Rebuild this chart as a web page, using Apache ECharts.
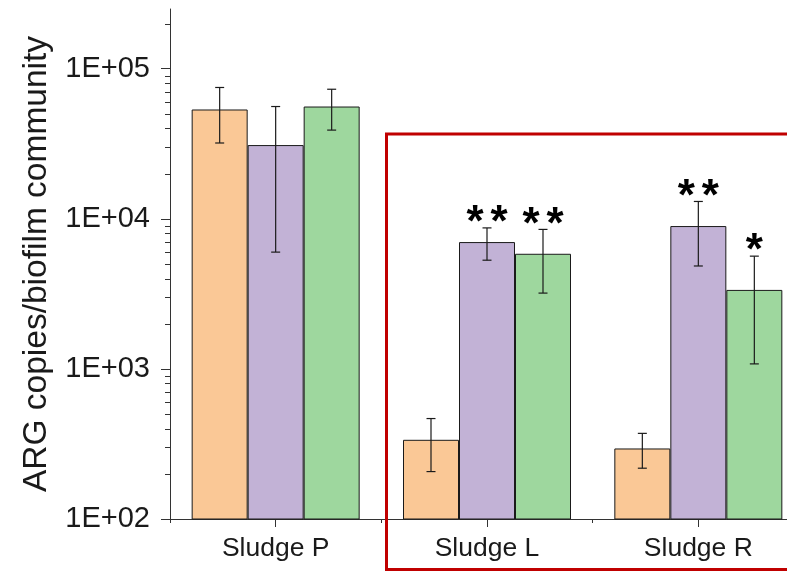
<!DOCTYPE html>
<html>
<head>
<meta charset="utf-8">
<script src="https://cdn.jsdelivr.net/npm/echarts@6/dist/echarts.min.js"></script>
<style>html,body{margin:0;padding:0;background:#fff;overflow:hidden;width:787px;height:572px}#c{width:810px;height:572px}</style>
</head>
<body>
<div id="c"></div>
<script>
const categories = ['Sludge P', 'Sludge L', 'Sludge R'];
const seriesA = [53500, 337, 295];     // orange
const seriesB = [31000, 7000, 8950];   // purple
const seriesC = [56000, 5850, 3360];   // green
const sdA = [21500, 130, 77];
const sdB = [25000, 1700, 4100];
const sdC = [17000, 2650, 2280];
const marksA = ['', '', ''];
const marksB = ['', '**', '**'];
const marksC = ['', '**', '*'];
const majorTicks = [100, 1000, 10000, 100000];
const minorTicks = [200,300,400,500,600,700,800,900,2000,3000,4000,5000,6000,7000,8000,9000,20000,30000,40000,50000,60000,70000,80000,90000,200000];

const colors = ['#FAC896', '#C2B2D6', '#9ED79E'];
const BAR_W = 56;
const STAR_STEP = 24;
const FONT = 'Liberation Sans, Arial, sans-serif';

const chart = echarts.init(document.getElementById('c'));

const values = [seriesA, seriesB, seriesC];
const sds = [sdA, sdB, sdC];
const marks = [marksA, marksB, marksC];

const barSeries = values.map((vals, s) => ({
  type: 'bar',
  xAxisIndex: 0, yAxisIndex: 0,
  data: vals,
  barWidth: BAR_W,
  barGap: '0%',
  itemStyle: { color: colors[s], borderColor: '#1a1a1a', borderWidth: 1 },
  z: 2
}));

const errSeries = values.map((vals, s) => ({
  type: 'custom',
  xAxisIndex: 0, yAxisIndex: 0,
  z: 5,
  data: vals.map((v, i) => [i, v, sds[s][i]]),
  renderItem: function (params, api) {
    const i = api.value(0), m = api.value(1), sd = api.value(2);
    const mark = marks[s][i];
    const off = (s - 1) * BAR_W;
    const top = api.coord([i, m + sd]);
    const bot = api.coord([i, m - sd]);
    const x = top[0] + off;
    const cw = 4.5;
    const lineStyle = { stroke: '#1a1a1a', lineWidth: 1.2 };
    const children = [
      { type: 'line', shape: { x1: x, y1: top[1], x2: x, y2: bot[1] }, style: lineStyle },
      { type: 'line', shape: { x1: x - cw, y1: top[1], x2: x + cw, y2: top[1] }, style: lineStyle },
      { type: 'line', shape: { x1: x - cw, y1: bot[1], x2: x + cw, y2: bot[1] }, style: lineStyle }
    ];
    const n = mark.length;
    for (let k = 0; k < n; k++) {
      children.push({
        type: 'text',
        style: {
          x: x + (k - (n - 1) / 2) * STAR_STEP, y: top[1] - 4,
          text: mark[k],
          fill: '#000',
          font: 'bold 44px ' + FONT,
          textAlign: 'center',
          textVerticalAlign: 'middle'
        }
      });
    }
    return { type: 'group', children: children };
  }
}));

const fmt = v => '1E+' + String(Math.round(Math.log10(v))).padStart(2, '0');

const redBox = {
  type: 'rect', z: 100,
  shape: { x: 386.5, y: 134, width: 430, height: 435.5 },
  style: { fill: 'none', stroke: '#C00000', lineWidth: 3 }
};

chart.setOption({
  animation: false,
  backgroundColor: '#fff',
  grid: { left: 170, top: 9, bottom: 53, right: 6, containLabel: false },
  xAxis: [
    {
      type: 'category', data: categories,
      axisLine: { show: true, lineStyle: { color: '#333', width: 1 } },
      axisTick: { show: true, alignWithLabel: true, length: 8, lineStyle: { color: '#333' } },
      axisLabel: { color: '#1a1a1a', fontSize: 26.5, fontFamily: FONT, margin: 16 },
      splitLine: { show: false }
    },
    {
      type: 'category', data: categories, position: 'bottom',
      axisLine: { show: false },
      axisTick: { show: true, alignWithLabel: false, length: 4, lineStyle: { color: '#333' } },
      axisLabel: { show: false },
      splitLine: { show: false }
    }
  ],
  yAxis: [
    {
      type: 'log', logBase: 10, min: 100, max: 250000, position: 'left',
      name: 'ARG copies/biofilm community',
      nameLocation: 'middle', nameGap: 116, nameRotate: 90,
      nameTextStyle: { fontSize: 33.5, color: '#1a1a1a', fontFamily: FONT },
      axisLine: { show: true, lineStyle: { color: '#333', width: 1 } },
      axisTick: { show: true, length: 9, customValues: majorTicks, lineStyle: { color: '#333' } },
      axisLabel: { color: '#1a1a1a', fontSize: 29, fontFamily: FONT, margin: 20, customValues: majorTicks, formatter: fmt },
      splitLine: { show: false }
    }
  ],
  series: barSeries.concat(errSeries),
  graphic: [redBox]
});

// minor log ticks (2..9 x 10^n), positioned through the axis scale
const c0 = chart.convertToPixel({ gridIndex: 0 }, [0, 1000]);
const c1 = chart.convertToPixel({ gridIndex: 0 }, [1, 1000]);
const axisX = c0[0] - (c1[0] - c0[0]) / 2;
const minorLines = minorTicks.map(v => {
  const y = Math.round(chart.convertToPixel({ yAxisIndex: 0 }, v)) + 0.5;
  return {
    type: 'line', z: 50,
    shape: { x1: axisX - 5, y1: y, x2: axisX, y2: y },
    style: { stroke: '#333', lineWidth: 1 }
  };
});
chart.setOption({ graphic: [redBox].concat(minorLines) });
</script>
</body>
</html>
